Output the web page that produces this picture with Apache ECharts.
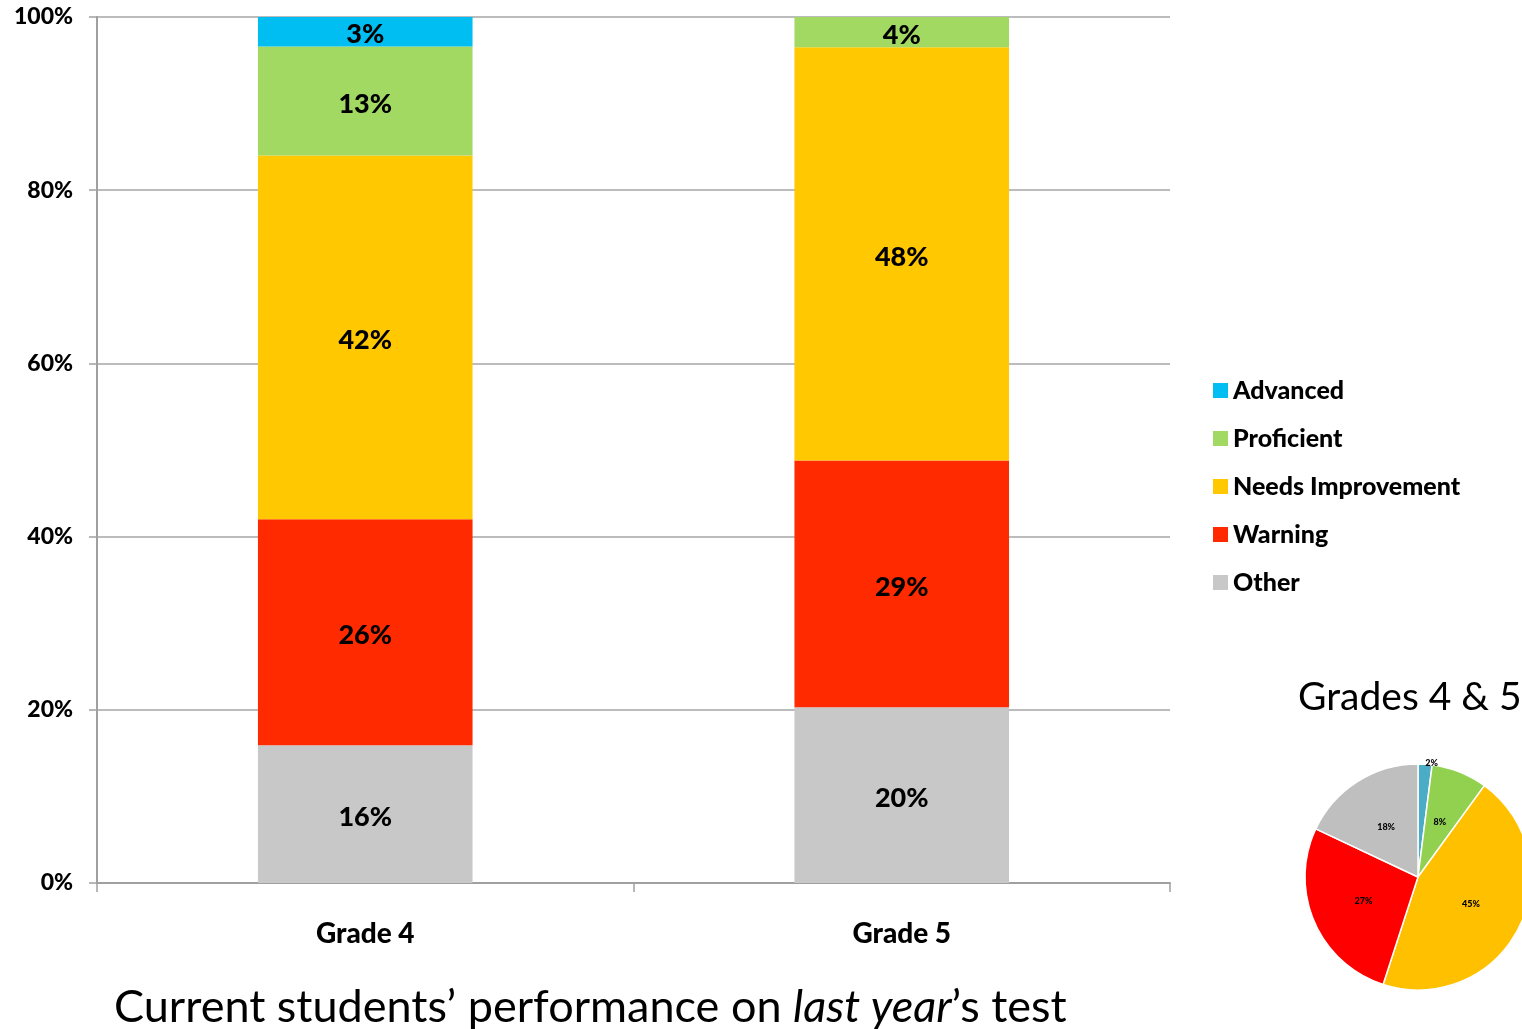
<!DOCTYPE html>
<html>
<head>
<meta charset="utf-8">
<script src="https://cdn.jsdelivr.net/npm/echarts@6/dist/echarts.min.js"></script>
<style>
  html, body { margin: 0; padding: 0; background: #fff; }
  #chart { width: 1522px; height: 1029px; }
</style>
</head>
<body>
<div id="chart"></div>
<script>
// 类目
const categories = ["Grade 4", "Grade 5"];
// 系列名（图例顺序）
const levelNames = ["Advanced", "Proficient", "Needs Improvement", "Warning", "Other"];
// 每个等级在两个年级的百分比
const otherVals = [15.9, 20.3];
const warningVals = [26.1, 28.5];
const needsVals = [42.0, 47.7];
const proficientVals = [12.6, 3.5];
const advancedVals = [3.4, 0];
// 4、5年级合计（饼图）
const pieVals = [2, 8, 45, 27, 18];
// y轴刻度
const yTicks = [0, 20, 40, 60, 80, 100];

const barColors = ["#00bdf2", "#a2d962", "#ffc800", "#ff2a00", "#c8c8c8"];
const pieColors = ["#4bacc6", "#92d050", "#ffc000", "#ff0000", "#bfbfbf"];
const font = "Lato, 'Open Sans', sans-serif";
const heavy = 900;

// 堆叠顺序：从底到顶
const stackOrder = [
  { name: "Other", data: otherVals, color: barColors[4] },
  { name: "Warning", data: warningVals, color: barColors[3] },
  { name: "Needs Improvement", data: needsVals, color: barColors[2] },
  { name: "Proficient", data: proficientVals, color: barColors[1] },
  { name: "Advanced", data: advancedVals, color: barColors[0] },
];

const barSeries = stackOrder.map((item) => {
  return {
    name: item.name,
    type: "bar",
    stack: "total",
    barWidth: "40%",
    data: item.data,
    itemStyle: { color: item.color },
    label: {
      show: true,
      position: "inside",
      offset: [0, 3],
      color: "#000",
      fontFamily: font,
      fontWeight: heavy,
      fontSize: 27,
      formatter: (p) => (p.value > 0 ? Math.round(p.value) + "%" : ""),
    },
  };
});

const pieData = levelNames.map((name, i) => {
  const d = { name: name, value: pieVals[i], itemStyle: { color: pieColors[i] } };
  if (i === 0) {
    // 小扇区标签放在外面
    d.label = { position: "outside", distanceToLabelLine: 0 };
    d.labelLine = { show: false, length: 1, length2: 0 };
  }
  return d;
});

const option = {
  animation: false,
  title: {
    text: "Current students’ performance on {i|last year}’s test",
    left: 109,
    top: 980,
    textStyle: {
      fontFamily: font,
      fontSize: 45,
      fontWeight: "normal",
      color: "#000",
      rich: {
        i: { fontFamily: font, fontSize: 45, fontStyle: "italic", color: "#000" },
      },
    },
  },
  legend: {
    orient: "vertical",
    left: 1208,
    top: 373,
    itemWidth: 15,
    itemHeight: 15,
    itemGap: 23,
    icon: "rect",
    data: levelNames,
    textStyle: {
      fontFamily: font,
      fontWeight: heavy,
      fontSize: 25,
      color: "#000",
      padding: [0, 0, 0, 0],
    },
  },
  grid: {
    left: 97,
    right: 352,
    top: 17,
    bottom: 146,
    containLabel: false,
  },
  xAxis: {
    type: "category",
    data: categories,
    axisLine: { lineStyle: { color: "#a0a0a0", width: 2 } },
    axisTick: { show: true, length: 9, lineStyle: { color: "#a0a0a0", width: 1.5 } },
    axisLabel: {
      margin: 37,
      color: "#000",
      fontFamily: font,
      fontWeight: heavy,
      fontSize: 28,
    },
  },
  yAxis: {
    type: "value",
    min: yTicks[0],
    max: yTicks[yTicks.length - 1],
    interval: yTicks[1] - yTicks[0],
    axisLine: { show: true, lineStyle: { color: "#a0a0a0", width: 2 } },
    axisTick: { show: true, length: 8, lineStyle: { color: "#a0a0a0", width: 1.5 } },
    splitLine: { lineStyle: { color: "#a6a6a6", width: 1.5 } },
    axisLabel: {
      margin: 24,
      color: "#000",
      fontFamily: font,
      fontWeight: heavy,
      fontSize: 23,
      formatter: "{value}%",
    },
  },
  graphic: [
    {
      type: "text",
      left: 1298,
      top: 678,
      style: {
        text: "Grades 4 & 5",
        fontFamily: font,
        fontSize: 39,
        fill: "#000",
      },
    },
  ],
  series: barSeries.concat([
    {
      name: "Grades 4 & 5",
      type: "pie",
      center: [1418, 877],
      radius: 113,
      startAngle: 90,
      clockwise: true,
      legendHoverLink: false,
      itemStyle: { borderColor: "#fff", borderWidth: 1.5 },
      label: {
        show: true,
        position: "inside",
        color: "#000",
        fontFamily: font,
        fontWeight: heavy,
        fontSize: 9,
        formatter: "{c}%",
      },
      data: pieData,
    },
  ]),
};

const chart = echarts.init(document.getElementById("chart"));
chart.setOption(option);
window.onresize = () => {
  chart.resize();
};
</script>
</body>
</html>
